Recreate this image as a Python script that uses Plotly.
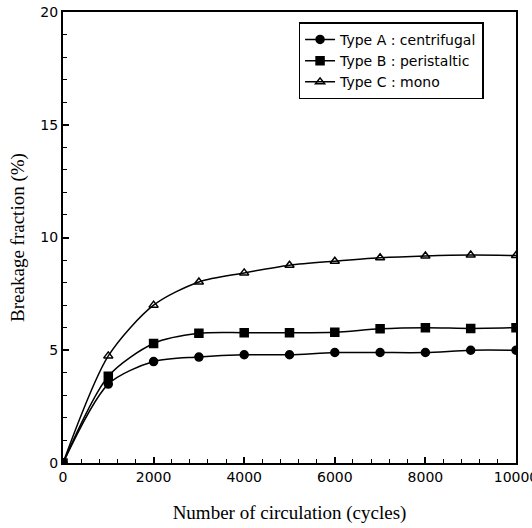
import plotly.graph_objects as go

cycles = [0, 1000, 2000, 3000, 4000, 5000, 6000, 7000, 8000, 9000, 10000]
type_a = [0, 3.5, 4.5, 4.7, 4.8, 4.8, 4.9, 4.9, 4.9, 5.0, 5.0]
type_b = [0, 3.85, 5.3, 5.75, 5.78, 5.78, 5.8, 5.95, 6.0, 5.97, 6.0]
type_c = [0, 4.75, 7.0, 8.03, 8.43, 8.77, 8.95, 9.1, 9.18, 9.22, 9.2]

names = ["Type A : centrifugal", "Type B : peristaltic", "Type C : mono"]
symbols = ["circle", "square", "triangle-up-open"]

fig = go.Figure()
for name, ys, sym in zip(names, [type_a, type_b, type_c], symbols):
    fig.add_trace(go.Scatter(
        x=cycles, y=ys, name=name, mode="lines+markers",
        line=dict(color="black", width=1.5, shape="spline", smoothing=0.8),
        marker=dict(symbol=sym, size=8, color="black", line=dict(color="black", width=1.5)),
    ))

axis_common = dict(
    showline=True, linecolor="black", linewidth=2, mirror=True,
    ticks="inside", ticklen=6, tickwidth=1.5, tickcolor="black",
    showgrid=False, zeroline=False, automargin=False, ticklabeloverflow="allow",
    tickfont=dict(family="DejaVu Sans", size=14, color="black"),
)

fig.update_xaxes(range=[0, 10000], tickvals=[0, 2000, 4000, 6000, 8000, 10000], tickformat="d",
                 minor=dict(dtick=400, ticks="inside", ticklen=4, tickcolor="black", tickwidth=1),
                 title=dict(text="Number of circulation (cycles)",
                            font=dict(family="Liberation Serif", size=19, color="black"), standoff=22),
                 **axis_common)
fig.update_yaxes(range=[0, 20], tickvals=[0, 5, 10, 15, 20],
                 minor=dict(dtick=1, ticks="inside", ticklen=4, tickcolor="black", tickwidth=1),
                 title=dict(text="Breakage fraction (%)",
                            font=dict(family="Liberation Serif", size=19, color="black"), standoff=11),
                 **axis_common)

fig.update_layout(
    width=532, height=528,
    margin=dict(l=63, r=16, t=12, b=65),
    paper_bgcolor="white", plot_bgcolor="white",
    showlegend=True,
    legend=dict(x=0.52, y=0.977, xanchor="left", yanchor="top",
                bordercolor="black", borderwidth=1.5, bgcolor="white",
                font=dict(family="DejaVu Sans", size=14, color="black"),
                tracegroupgap=0, itemwidth=30),
)

fig.write_html("out.html", config={"displayModeBar": False},
               post_script="document.body.style.margin='0';document.body.style.overflow='hidden';")
